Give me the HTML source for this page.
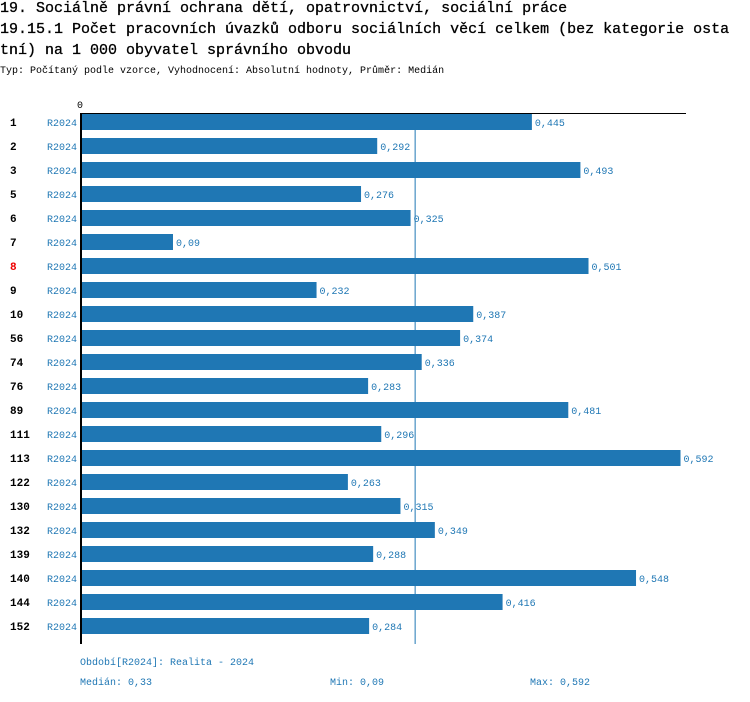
<!DOCTYPE html>
<html><head><meta charset="utf-8"><style>
body{margin:0;background:#fff;font-family:"Liberation Mono",monospace;}
#wrap{position:relative;width:750px;height:702px;overflow:hidden;}
.t{position:absolute;left:0;font-size:15px;color:#000;white-space:pre;-webkit-text-stroke:0.3px #000;}
.s{position:absolute;left:0;top:66px;font-size:10px;color:#000;white-space:pre;}
.f{position:absolute;font-size:10px;color:#1f77b4;white-space:pre;}
</style></head><body>
<div id="wrap">
<div class="t" style="top:0px">19. Sociálně právní ochrana dětí, opatrovnictví, sociální práce</div>
<div class="t" style="top:21px">19.15.1 Počet pracovních úvazků odboru sociálních věcí celkem (bez kategorie osta</div>
<div class="t" style="top:42px">tní) na 1 000 obyvatel správního obvodu</div>
<div class="s">Typ: Počítaný podle vzorce, Vyhodnocení: Absolutní hodnoty, Průměr: Medián</div>
<svg id="svg" width="750" height="702" style="position:absolute;left:0;top:0"></svg>
<div class="f" style="left:80px;top:658px">Období[R2024]: Realita - 2024</div>
<div class="f" style="left:80px;top:678px">Medián: 0,33</div>
<div class="f" style="left:330px;top:678px">Min: 0,09</div>
<div class="f" style="left:530px;top:678px">Max: 0,592</div>
</div>
<script>
const categories=["1","2","3","5","6","7","8","9","10","56","74","76","89","111","113","122","130","132","139","140","144","152"];
const values=[0.445,0.292,0.493,0.276,0.325,0.09,0.501,0.232,0.387,0.374,0.336,0.283,0.481,0.296,0.592,0.263,0.315,0.349,0.288,0.548,0.416,0.284];
const highlight=["8"];
const median=0.33;
const NS="http://www.w3.org/2000/svg";
const svg=document.getElementById('svg');
const x0=82, k=1011, top0=114, pitch=24, bh=16;
const xs=v=>x0+v*k;
const ys=i=>top0+i*pitch;
function mk(tag,a){const e=document.createElementNS(NS,tag);for(const n in a)e.setAttribute(n,a[n]);svg.appendChild(e);return e;}
const bottom=ys(categories.length)+2;
categories.forEach((c,i)=>{
  const y=ys(i);
  const r=mk('rect',{x:x0,y:y,width:xs(values[i])-x0,height:bh,fill:'#1f77b4'});
  
  
  const l=mk('text',{x:10,y:y+12,'font-size':11,'font-weight':'bold','font-family':'Liberation Mono, monospace',fill:highlight.includes(c)?'#e00':'#000'});
  l.textContent=c;
  
  
  const p=mk('text',{x:47,y:y+12,'font-size':10,'font-family':'Liberation Mono, monospace',fill:'#1f77b4'});
  p.textContent='R2024';
  
  
  const v=mk('text',{x:xs(values[i])+3,y:y+12,'font-size':10,'font-family':'Liberation Mono, monospace',fill:'#1f77b4'});
  v.textContent=String(values[i]).replace('.',',');
  
  
});
const m=mk('line',{x1:xs(median)-0.5,x2:xs(median)-0.5,y1:top0,y2:bottom,stroke:'#1f77b4','stroke-width':1});


const ax=mk('line',{x1:81,x2:81,y1:top0-1,y2:bottom,stroke:'#000','stroke-width':2});


const tx=mk('line',{x1:80,x2:686,y1:top0-0.5,y2:top0-0.5,stroke:'#000','stroke-width':1});


const z=mk('text',{x:77,y:108,'font-size':10,'font-family':'Liberation Mono, monospace',fill:'#000'});
z.textContent='0';


</script>
</body></html>
